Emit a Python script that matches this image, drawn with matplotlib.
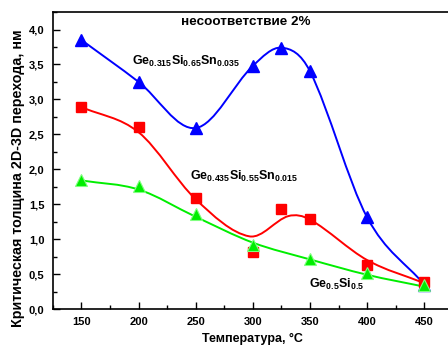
import matplotlib
matplotlib.use("Agg")
import matplotlib.pyplot as plt
import numpy as np
from matplotlib.path import Path
from matplotlib.patches import PathPatch
from matplotlib.ticker import MultipleLocator, FuncFormatter

plt.rcParams['font.family'] = ['Liberation Sans', 'DejaVu Sans']
plt.rcParams['font.weight'] = 'bold'
plt.rcParams['mathtext.fontset'] = 'custom'
plt.rcParams['mathtext.rm'] = 'Liberation Sans:bold'
plt.rcParams['mathtext.it'] = 'Liberation Sans:bold'
plt.rcParams['mathtext.bf'] = 'Liberation Sans:bold'

# measured points
temp = [150, 200, 250, 300, 325, 350, 400, 450]
h_gesisn_035 = [3.85, 3.25, 2.59, 3.48, 3.74, 3.40, 1.31, 0.35]
h_gesisn_015 = [2.89, 2.61, 1.59, 0.82, 1.43, 1.29, 0.63, 0.39]
temp_gesi = [150, 200, 250, 300, 350, 400, 450]
h_gesi = [1.85, 1.76, 1.36, 0.92, 0.72, 0.51, 0.34]

# knots of the hand-drawn smooth curves
curve_x_015 = [150, 200, 250, 297, 331, 350, 400, 450]
curve_y_015 = [2.89, 2.53, 1.57, 1.04, 1.33, 1.28, 0.70, 0.37]
curve_x_gesi = [150, 200, 250, 300, 350, 400, 450]
curve_y_gesi = [1.84, 1.71, 1.32, 0.95, 0.71, 0.49, 0.32]


def smooth_path(xs, ys):
    # cubic Hermite through the knots, handed to matplotlib as Bezier segments
    xs = np.asarray(xs, float)
    ys = np.asarray(ys, float)
    n = len(xs)
    m = np.zeros(n)
    for i in range(n):
        if i == 0:
            m[i] = (ys[1] - ys[0]) / (xs[1] - xs[0])
        elif i == n - 1:
            m[i] = (ys[-1] - ys[-2]) / (xs[-1] - xs[-2])
        else:
            m[i] = (ys[i + 1] - ys[i - 1]) / (xs[i + 1] - xs[i - 1])
    verts = [(xs[0], ys[0])]
    codes = [Path.MOVETO]
    for i in range(n - 1):
        h = xs[i + 1] - xs[i]
        verts += [(xs[i] + h / 3, ys[i] + m[i] * h / 3),
                  (xs[i + 1] - h / 3, ys[i + 1] - m[i + 1] * h / 3),
                  (xs[i + 1], ys[i + 1])]
        codes += [Path.CURVE4] * 3
    return Path(verts, codes)


fig = plt.figure(figsize=(4.48, 3.54), dpi=100)
ax = fig.add_axes([0.118, 0.127, 0.893, 0.839])

ax.add_patch(PathPatch(smooth_path(temp, h_gesisn_035), fc='none', ec='#0000ff', lw=1.4))
ax.add_patch(PathPatch(smooth_path(curve_x_015, curve_y_015), fc='none', ec='#ff0000', lw=1.4))
ax.add_patch(PathPatch(smooth_path(curve_x_gesi, curve_y_gesi), fc='none', ec='#00ee00', lw=1.4))

ax.plot(temp, h_gesisn_035, ls='none', marker='^', ms=9, color='#0000ff', mec='#0000ff')
ax.plot(temp, h_gesisn_015, ls='none', marker='s', ms=7.5, color='#ff0000', mec='#ff0000')
ax.plot(temp_gesi, h_gesi, ls='none', marker='^', ms=9, color='#00ee00', mec='#80ff80', mew=0.8)

ax.set_xlim(125, 475)
ax.set_ylim(0, 4.25)
ax.xaxis.set_major_locator(MultipleLocator(50))
ax.xaxis.set_minor_locator(MultipleLocator(25))
ax.yaxis.set_major_locator(MultipleLocator(0.5))
ax.yaxis.set_minor_locator(MultipleLocator(0.25))
ax.yaxis.set_major_formatter(FuncFormatter(lambda v, p: f"{v:.1f}".replace('.', ',')))
ax.tick_params(which='both', direction='in', top=False, right=False)
ax.tick_params(which='major', length=5, width=1, labelsize=8, pad=6)
ax.tick_params(which='minor', length=3, width=1)
for s in ax.spines.values():
    s.set_linewidth(1.2)

ax.set_xlabel('Температура, °C', fontsize=9, fontweight='bold', labelpad=4)
fig.text(18 / 448, 1 - 178 / 354, 'Критическая толщина 2D-3D перехода, нм',
         rotation=90, ha='center', va='center', fontsize=10.3, fontweight='bold')

ax.text(237, 4.11, 'несоответствие 2%', fontsize=9.7, fontweight='bold', va='center')
ax.text(194, 3.55, 'Ge$_{0.315}$Si$_{0.65}$Sn$_{0.035}$', fontsize=9, va='center')
ax.text(245, 1.90, 'Ge$_{0.435}$Si$_{0.55}$Sn$_{0.015}$', fontsize=9, va='center')
ax.text(349, 0.35, 'Ge$_{0.5}$Si$_{0.5}$', fontsize=9, va='center')

fig.savefig('out.png', dpi=100)
